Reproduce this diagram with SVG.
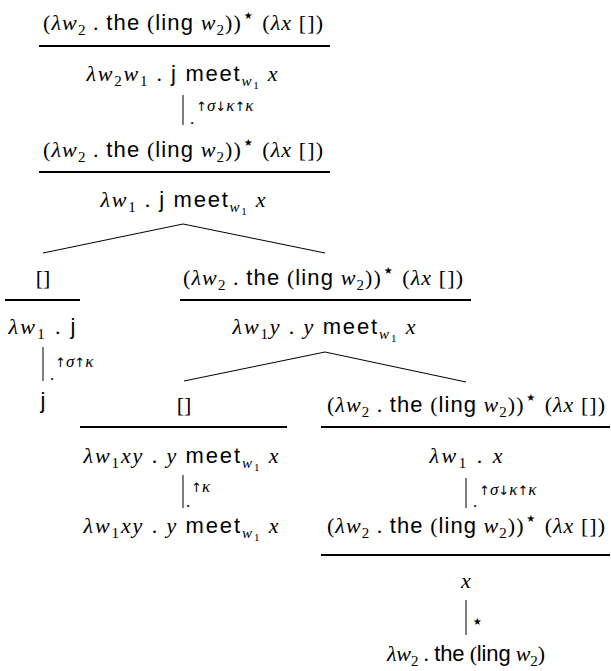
<svg xmlns="http://www.w3.org/2000/svg" width="611" height="671" viewBox="0 0 611 671">
<style>
text { font-family: "Liberation Serif", serif; font-size: 22px; fill: #000; }
.v { font-style: italic; }
.s { font-family: "Liberation Sans", sans-serif; }
.b { font-size: 15px; }
.bb { font-size: 11px; }
.st { font-family: "DejaVu Sans", sans-serif; font-size: 20px; }
.lab { font-size: 17px; }
.ar { font-family: "DejaVu Sans", sans-serif; font-size: 13px; }
.rule { stroke: #000; stroke-width: 1.8; }
.bar { stroke: #000; stroke-width: 1; }
.br { stroke: #000; stroke-width: 1; fill: none; }
</style>
<rect width="611" height="671" fill="#fff"/>
<g id="connectors">
<line class="br" x1="183" y1="224" x2="43" y2="253"/>
<line class="br" x1="183" y1="224" x2="325" y2="253"/>
<line class="br" x1="325" y1="352" x2="184" y2="381"/>
<line class="br" x1="325" y1="352" x2="466" y2="382"/>
</g>
<g id="root">
<text x="183" y="30" text-anchor="middle" textLength="280" lengthAdjust="spacing">(<tspan class="v">λw</tspan><tspan class="b" dy="5">2</tspan><tspan dy="-5"> . </tspan><tspan class="s">the</tspan> (<tspan class="s">ling</tspan> <tspan class="v">w</tspan><tspan class="b" dy="5">2</tspan><tspan dy="-5">))</tspan><tspan class="st" dy="-8">⋆</tspan><tspan dy="8"> (</tspan><tspan class="v">λx</tspan> [])</text>
<line class="rule" x1="39" y1="46" x2="330" y2="46"/>
<text x="182" y="81" text-anchor="middle" textLength="191" lengthAdjust="spacing"><tspan class="v">λw</tspan><tspan class="b" dy="5">2</tspan><tspan class="v" dy="-5">w</tspan><tspan class="b" dy="5">1</tspan><tspan dy="-5"> . </tspan><tspan class="s">j meet</tspan><tspan class="v b" dy="5">w</tspan><tspan class="bb" dy="3">1</tspan><tspan dy="-8"> </tspan><tspan class="v">x</tspan></text>
<line class="bar" x1="183" y1="95" x2="183" y2="125"/>
<text x="190" y="124" class="lab">.</text>
<text x="196" y="111" class="lab"><tspan class="ar">↑</tspan><tspan class="v">σ</tspan><tspan class="ar">↓</tspan><tspan class="v">κ</tspan><tspan class="ar">↑</tspan><tspan class="v">κ</tspan></text>
<text x="183" y="157" text-anchor="middle" textLength="280" lengthAdjust="spacing">(<tspan class="v">λw</tspan><tspan class="b" dy="5">2</tspan><tspan dy="-5"> . </tspan><tspan class="s">the</tspan> (<tspan class="s">ling</tspan> <tspan class="v">w</tspan><tspan class="b" dy="5">2</tspan><tspan dy="-5">))</tspan><tspan class="st" dy="-8">⋆</tspan><tspan dy="8"> (</tspan><tspan class="v">λx</tspan> [])</text>
<line class="rule" x1="39" y1="172" x2="330" y2="172"/>
<text x="183" y="207" text-anchor="middle" textLength="165" lengthAdjust="spacing"><tspan class="v">λw</tspan><tspan class="b" dy="5">1</tspan><tspan dy="-5"> . </tspan><tspan class="s">j meet</tspan><tspan class="v b" dy="5">w</tspan><tspan class="bb" dy="3">1</tspan><tspan dy="-8"> </tspan><tspan class="v">x</tspan></text>
</g>
<g id="left">
<text x="43" y="285" text-anchor="middle">[]</text>
<line class="rule" x1="5" y1="300" x2="80" y2="300"/>
<text x="42" y="334" text-anchor="middle" textLength="67" lengthAdjust="spacing"><tspan class="v">λw</tspan><tspan class="b" dy="5">1</tspan><tspan dy="-5"> . </tspan><tspan class="s">j</tspan></text>
<line class="bar" x1="43" y1="347" x2="43" y2="381"/>
<text x="50" y="380" class="lab">.</text>
<text x="55" y="367" class="lab"><tspan class="ar">↑</tspan><tspan class="v">σ</tspan><tspan class="ar">↑</tspan><tspan class="v">κ</tspan></text>
<text x="43" y="408" text-anchor="middle" class="s">j</text>
</g>
<g id="mid">
<text x="323" y="285" text-anchor="middle" textLength="280" lengthAdjust="spacing">(<tspan class="v">λw</tspan><tspan class="b" dy="5">2</tspan><tspan dy="-5"> . </tspan><tspan class="s">the</tspan> (<tspan class="s">ling</tspan> <tspan class="v">w</tspan><tspan class="b" dy="5">2</tspan><tspan dy="-5">))</tspan><tspan class="st" dy="-8">⋆</tspan><tspan dy="8"> (</tspan><tspan class="v">λx</tspan> [])</text>
<line class="rule" x1="180" y1="300" x2="471" y2="300"/>
<text x="324" y="334" text-anchor="middle" textLength="183" lengthAdjust="spacing"><tspan class="v">λw</tspan><tspan class="b" dy="5">1</tspan><tspan class="v" dy="-5">y</tspan> . <tspan class="v">y</tspan> <tspan class="s">meet</tspan><tspan class="v b" dy="5">w</tspan><tspan class="bb" dy="3">1</tspan><tspan dy="-8"> </tspan><tspan class="v">x</tspan></text>
</g>
<g id="midleft">
<text x="184" y="412" text-anchor="middle">[]</text>
<line class="rule" x1="80" y1="427" x2="287" y2="427"/>
<text x="181" y="463" text-anchor="middle" textLength="195" lengthAdjust="spacing"><tspan class="v">λw</tspan><tspan class="b" dy="5">1</tspan><tspan class="v" dy="-5">xy</tspan> . <tspan class="v">y</tspan> <tspan class="s">meet</tspan><tspan class="v b" dy="5">w</tspan><tspan class="bb" dy="3">1</tspan><tspan dy="-8"> </tspan><tspan class="v">x</tspan></text>
<line class="bar" x1="183" y1="475" x2="183" y2="508"/>
<text x="186" y="507" class="lab">.</text>
<text x="191" y="492" class="lab"><tspan class="ar">↑</tspan><tspan class="v">κ</tspan></text>
<text x="181" y="533" text-anchor="middle" textLength="195" lengthAdjust="spacing"><tspan class="v">λw</tspan><tspan class="b" dy="5">1</tspan><tspan class="v" dy="-5">xy</tspan> . <tspan class="v">y</tspan> <tspan class="s">meet</tspan><tspan class="v b" dy="5">w</tspan><tspan class="bb" dy="3">1</tspan><tspan dy="-8"> </tspan><tspan class="v">x</tspan></text>
</g>
<g id="midright">
<text x="466" y="412" text-anchor="middle" textLength="278" lengthAdjust="spacing">(<tspan class="v">λw</tspan><tspan class="b" dy="5">2</tspan><tspan dy="-5"> . </tspan><tspan class="s">the</tspan> (<tspan class="s">ling</tspan> <tspan class="v">w</tspan><tspan class="b" dy="5">2</tspan><tspan dy="-5">))</tspan><tspan class="st" dy="-8">⋆</tspan><tspan dy="8"> (</tspan><tspan class="v">λx</tspan> [])</text>
<line class="rule" x1="321" y1="427" x2="610" y2="427"/>
<text x="466" y="463" text-anchor="middle" textLength="73" lengthAdjust="spacing"><tspan class="v">λw</tspan><tspan class="b" dy="5">1</tspan><tspan dy="-5"> . </tspan><tspan class="v">x</tspan></text>
<line class="bar" x1="466" y1="478" x2="466" y2="508"/>
<text x="473" y="507" class="lab">.</text>
<text x="479" y="495" class="lab"><tspan class="ar">↑</tspan><tspan class="v">σ</tspan><tspan class="ar">↓</tspan><tspan class="v">κ</tspan><tspan class="ar">↑</tspan><tspan class="v">κ</tspan></text>
<text x="466" y="533" text-anchor="middle" textLength="278" lengthAdjust="spacing">(<tspan class="v">λw</tspan><tspan class="b" dy="5">2</tspan><tspan dy="-5"> . </tspan><tspan class="s">the</tspan> (<tspan class="s">ling</tspan> <tspan class="v">w</tspan><tspan class="b" dy="5">2</tspan><tspan dy="-5">))</tspan><tspan class="st" dy="-8">⋆</tspan><tspan dy="8"> (</tspan><tspan class="v">λx</tspan> [])</text>
<line class="rule" x1="321" y1="555" x2="610" y2="555"/>
<text x="466" y="588" text-anchor="middle" class="v">x</text>
<line class="bar" x1="466" y1="600" x2="466" y2="635"/>
<text x="471" y="628" class="st">⋆</text>
<text x="466" y="661" text-anchor="middle" textLength="158" lengthAdjust="spacing"><tspan class="v">λw</tspan><tspan class="b" dy="5">2</tspan><tspan dy="-5"> . </tspan><tspan class="s">the</tspan> (<tspan class="s">ling</tspan> <tspan class="v">w</tspan><tspan class="b" dy="5">2</tspan><tspan dy="-5">)</tspan></text>
</g>
</svg>
